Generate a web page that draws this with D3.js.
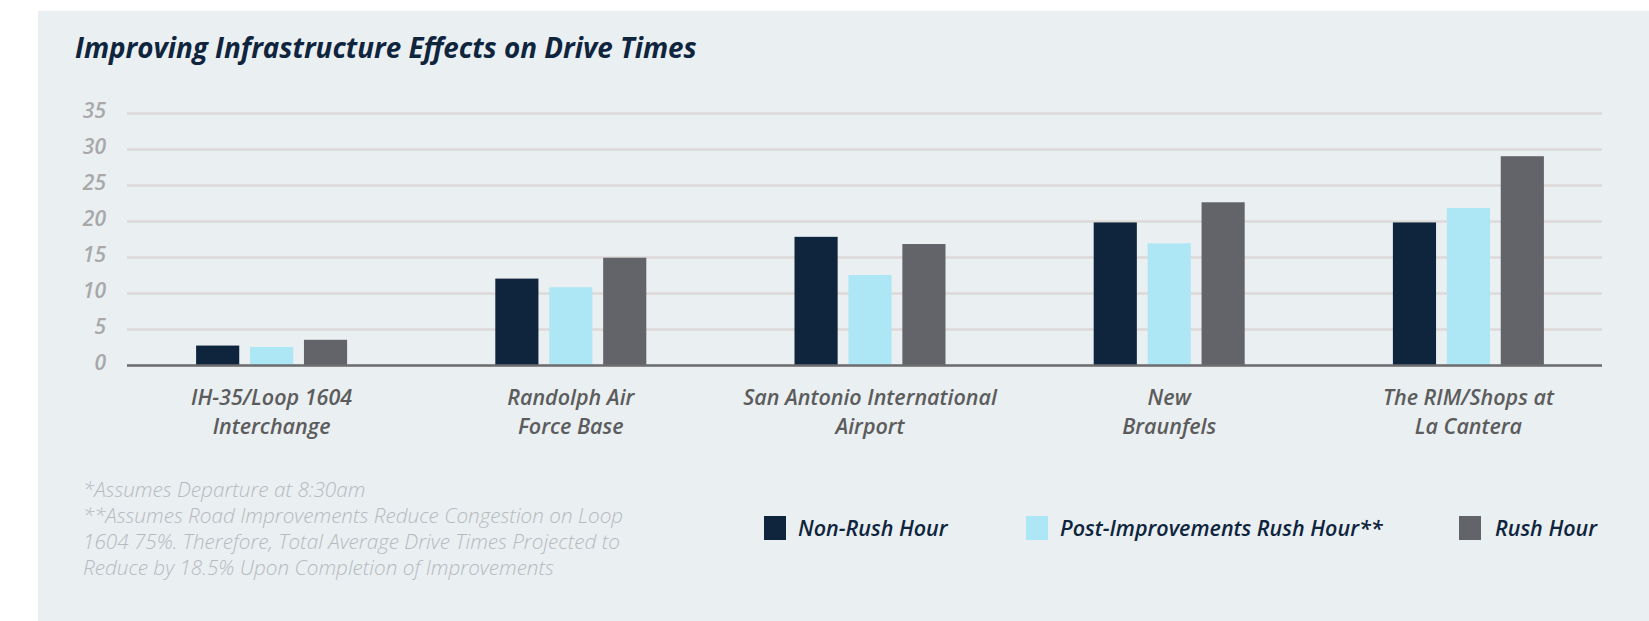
<!DOCTYPE html>
<html>
<head>
<meta charset="utf-8">
<script src="https://cdn.jsdelivr.net/npm/d3@7"></script>
<style>
  body { margin: 0; background: #ffffff; }
  text { font-family: "Open Sans", "Noto Sans", sans-serif; font-style: italic; }
</style>
</head>
<body>
<div id="chart"></div>
<script>
// Data
const categories = [
  ["IH-35/Loop 1604", "Interchange"],
  ["Randolph Air", "Force Base"],
  ["San Antonio International", "Airport"],
  ["New", "Braunfels"],
  ["The RIM/Shops at", "La Cantera"]
];
const seriesNames = ["Non-Rush Hour", "Post-Improvements Rush Hour**", "Rush Hour"];
const nonRush = [2.7, 12, 17.8, 19.8, 19.8];
const postImprovements = [2.5, 10.8, 12.5, 16.9, 21.8];
const rushHour = [3.5, 14.9, 16.8, 22.6, 29];
const yTicks = [0, 5, 10, 15, 20, 25, 30, 35];
const footnotes = [
  "*Assumes Departure at 8:30am",
  "**Assumes Road Improvements Reduce Congestion on Loop",
  "1604 75%. Therefore, Total Average Drive Times Projected to",
  "Reduce by 18.5% Upon Completion of Improvements"
];
const title = "Improving Infrastructure Effects on Drive Times";

const colors = ["#0f253e", "#ade6f4", "#636469"];
const width = 1649, height = 621;

const svg = d3.select("#chart")
  .append("svg")
  .attr("width", width)
  .attr("height", height);

// panel background
svg.append("rect")
  .attr("x", 38).attr("y", 11)
  .attr("width", width - 38).attr("height", height - 11)
  .attr("fill", "#eaeff2");

// title
svg.append("text")
  .attr("x", 75).attr("y", 58)
  .attr("fill", "#0f253e")
  .style("font-size", "27.8px")
  .style("font-weight", 700)
  .text(title);

// Scales
const gridLeft = 127, gridRight = 1602;
const y = d3.scaleLinear().domain([0, 35]).range([365, 113]);

const x0 = d3.scaleBand()
  .domain(categories.map(d => d[0]))
  .range([122, 1618])
  .paddingInner(0)
  .paddingOuter(0);

const groupWidth = 151;
const x1 = d3.scaleBand()
  .domain(seriesNames)
  .range([0, groupWidth])
  .paddingInner(0.2);

// Gridlines + tick labels
const yAxis = svg.append("g")
  .attr("transform", `translate(${gridLeft},0)`)
  .call(d3.axisLeft(y)
    .tickValues(yTicks)
    .tickSizeInner(-(gridRight - gridLeft))
    .tickSizeOuter(0)
    .tickPadding(21));

yAxis.select(".domain").remove();
yAxis.selectAll(".tick line")
  .attr("stroke", "#dcd9d7")
  .attr("stroke-width", 2.5);
yAxis.selectAll(".tick text")
  .attr("fill", "#a8a8a8")
  .attr("dy", "0.22em")
  .style("font-size", "21px")
  .style("font-weight", 600)
  .style("font-family", "'Open Sans', sans-serif");

// Bars
const rows = categories.map((c, i) => ({
  key: c[0],
  values: [nonRush[i], postImprovements[i], rushHour[i]]
}));

const groups = svg.append("g")
  .selectAll("g")
  .data(rows)
  .join("g")
  .attr("transform", d => `translate(${x0(d.key) + x0.bandwidth() / 2 - groupWidth / 2},0)`);

groups.selectAll("rect")
  .data(d => d.values.map((v, j) => ({ series: seriesNames[j], value: v, idx: j })))
  .join("rect")
  .attr("x", d => x1(d.series))
  .attr("y", d => y(d.value))
  .attr("width", x1.bandwidth())
  .attr("height", d => y(0) - y(d.value))
  .attr("fill", d => colors[d.idx]);

// Baseline
svg.append("line")
  .attr("x1", gridLeft).attr("x2", gridRight)
  .attr("y1", y(0) + 0.5).attr("y2", y(0) + 0.5)
  .attr("stroke", "#6c6d70")
  .attr("stroke-width", 2.5);

// Category labels
const labels = svg.append("g")
  .selectAll("text")
  .data(categories)
  .join("text")
  .attr("x", d => x0(d[0]) + x0.bandwidth() / 2)
  .attr("y", 405)
  .attr("text-anchor", "middle")
  .attr("fill", "#5c5c5c")
  .style("font-size", "21.5px")
  .style("font-weight", 600);

labels.selectAll("tspan")
  .data(d => d)
  .join("tspan")
  .attr("x", function () { return d3.select(this.parentNode).attr("x"); })
  .attr("dy", (d, i) => i === 0 ? 0 : 29)
  .text(d => d);

// Footnotes
svg.append("g")
  .selectAll("text")
  .data(footnotes)
  .join("text")
  .attr("x", 83)
  .attr("y", (d, i) => 497 + i * 26)
  .attr("fill", "#b6babe")
  .style("font-size", "20.7px")
  .style("font-weight", 300)
  .text(d => d);

// Legend
const legendX = [764, 1026, 1459];
const legend = svg.append("g")
  .selectAll("g")
  .data(seriesNames)
  .join("g")
  .attr("transform", (d, i) => `translate(${legendX[i]},516)`);

legend.append("rect")
  .attr("width", 22).attr("height", 24)
  .attr("fill", (d, i) => colors[i]);

legend.append("text")
  .attr("x", (d, i) => i === 2 ? 36 : 34)
  .attr("y", 20)
  .attr("fill", "#0f253e")
  .style("font-size", "21.5px")
  .style("font-weight", 600)
  .text(d => d);
</script>
</body>
</html>
